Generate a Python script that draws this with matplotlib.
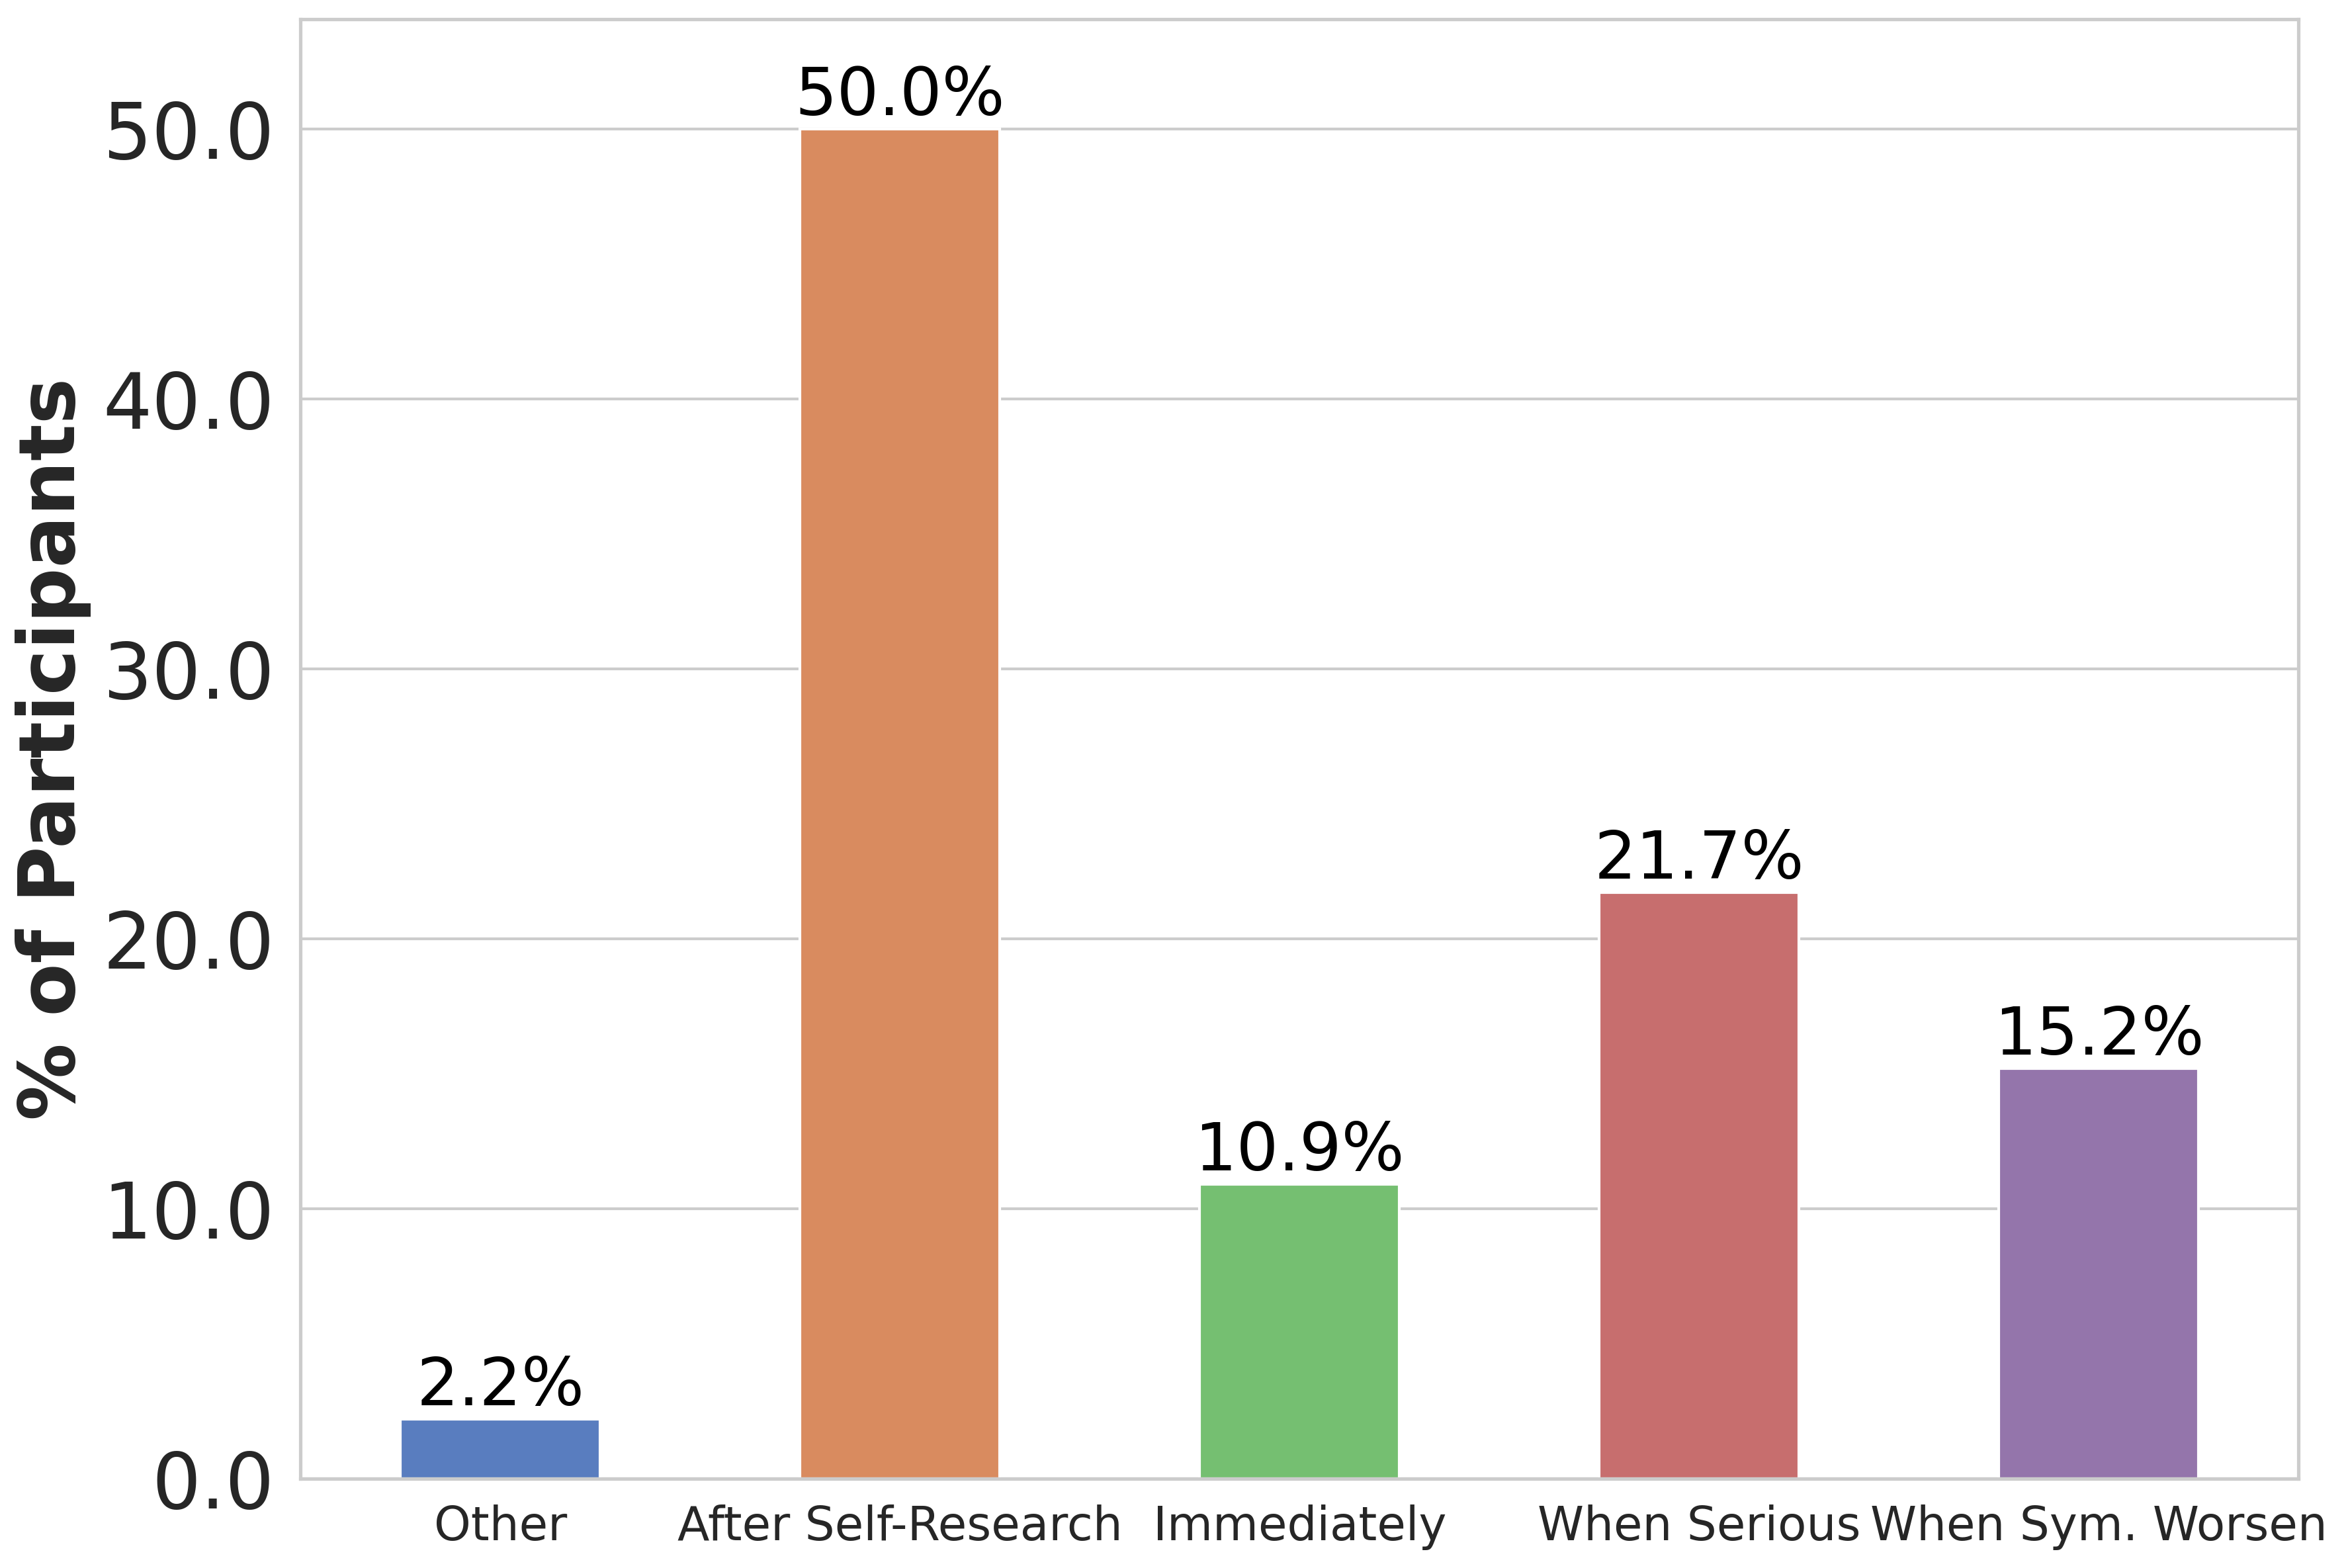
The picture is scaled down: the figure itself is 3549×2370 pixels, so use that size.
import numpy as np
import matplotlib
matplotlib.use('Agg')
import matplotlib.pyplot as plt
import seaborn as sns
from matplotlib.ticker import FormatStrFormatter

categories = ['Other', 'After Self-Research', 'Immediately', 'When Serious', 'When Sym. Worsen']
percentages = [2.2, 50.0, 10.9, 21.7, 15.2]

sns.set_theme(style='whitegrid')
plt.rcParams['font.family'] = ['DejaVu Sans']

fig, ax = plt.subplots(figsize=(11.83, 7.9))
palette = sns.color_palette('muted', len(categories))
sns.barplot(x=categories, y=percentages, hue=categories, palette=palette,
            width=0.5, legend=False, ax=ax)

for i, v in enumerate(percentages):
    ax.text(i, v, f'{v:.1f}%', ha='center', va='bottom', fontsize=24, color='black')

ax.set_ylim(0, 54.05)
ax.set_xlim(-0.5, len(categories) - 0.5)
ax.yaxis.set_major_formatter(FormatStrFormatter('%.1f'))
ax.grid(axis='x', visible=False)
ax.tick_params(axis='y', labelsize=28)
ax.tick_params(axis='x', labelsize=17)
ax.set_ylabel('% of Participants', fontsize=28, fontweight='bold')
ax.set_xlabel('')

fig.subplots_adjust(left=0.128, right=0.979, top=0.9876, bottom=0.057)
fig.savefig('out.png', dpi=300)
